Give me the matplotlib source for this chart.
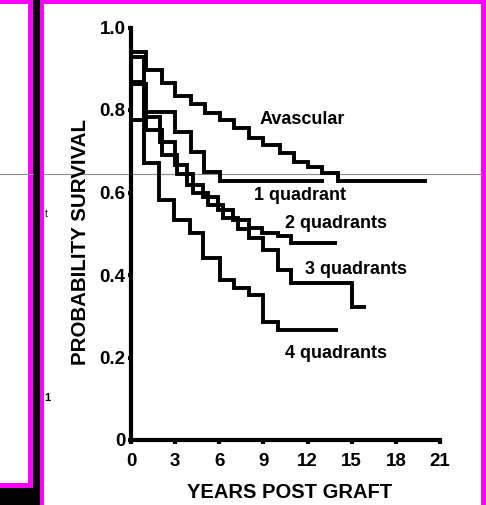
import matplotlib
matplotlib.use("Agg")
import matplotlib.pyplot as plt
from matplotlib.patches import Rectangle
from matplotlib.lines import Line2D

# Kaplan-Meier style survival steps
AVASC_YEARS = [0, 1.0, 2.1, 3.0, 4.05, 5.0, 6.05, 7.0, 8.0, 9.0, 10.1, 11.1, 12.0, 13.0, 14.1, 20.1]
AVASC_SURV = [0.941, 0.897, 0.866, 0.834, 0.814, 0.792, 0.776, 0.756, 0.733, 0.715,
              0.695, 0.673, 0.663, 0.648, 0.627, 0.627]

Q1_YEARS = [0, 0.9, 3.0, 4.05, 4.95, 6.05, 13.1]
Q1_SURV = [0.928, 0.796, 0.747, 0.699, 0.650, 0.627, 0.627]

Q2_YEARS = [0, 0.9, 2.0, 3.0, 3.8, 4.9, 5.9, 6.9, 8.0, 8.9, 10.0, 10.9, 14.0]
Q2_SURV = [0.869, 0.784, 0.723, 0.667, 0.618, 0.590, 0.558, 0.533, 0.515, 0.503, 0.495, 0.477, 0.477]

Q3_YEARS = [0, 1.0, 2.1, 3.1, 4.2, 5.2, 6.25, 7.3, 8.0, 9.0, 10.0, 10.9, 15.0, 16.0]
Q3_SURV = [0.862, 0.752, 0.691, 0.646, 0.599, 0.570, 0.538, 0.512, 0.489, 0.461,
           0.412, 0.380, 0.323, 0.323]

Q4_YEARS = [0, 0.9, 1.9, 2.9, 4.0, 4.9, 6.05, 7.0, 8.0, 9.0, 10.0, 14.1]
Q4_SURV = [0.775, 0.671, 0.583, 0.533, 0.501, 0.442, 0.388, 0.368, 0.352, 0.287, 0.267, 0.267]

CURVE_LABELS = ["Avascular", "1 quadrant", "2 quadrants", "3 quadrants", "4 quadrants"]
XTICKS = [0, 3, 6, 9, 12, 15, 18, 21]
YTICKS = [0, 0.2, 0.4, 0.6, 0.8, 1.0]
YTICK_LABELS = ["0", "0.2", "0.4", "0.6", "0.8", "1.0"]

W, H = 486, 505
MAGENTA = "#ff00ff"
FONT = ["Liberation Sans", "DejaVu Sans"]
plt.rcParams["font.family"] = FONT

fig = plt.figure(figsize=(W / 100, H / 100), dpi=100)
fig.patch.set_facecolor("black")


def _rect(x, y, w, h, color):
    # pixel box measured from the top-left corner
    fig.add_artist(Rectangle((x / W, 1 - (y + h) / H), w / W, h / H,
                             transform=fig.transFigure, facecolor=color,
                             edgecolor="none", zorder=-10))


# slide frame around the chart
_rect(0, 4, 28, 479, "white")
_rect(28, 0, 5, 488, MAGENTA)
_rect(0, 483, 33, 5, MAGENTA)
_rect(0, 0, 33, 4, MAGENTA)
_rect(40, 0, 4, 505, MAGENTA)
_rect(40, 0, 446, 4, MAGENTA)
_rect(44, 4, 437, 501, "white")
_rect(481, 0, 5, 505, MAGENTA)

# thin grey line across the screenshot
gy = 1 - 173.5 / H
for x0, x1 in [(0, 33), (44, 481)]:
    fig.add_artist(Line2D([x0 / W, x1 / W], [gy, gy], transform=fig.transFigure,
                          color="#8a8a8a", linewidth=0.8, zorder=-5))

fig.text(46 / W, 1 - 214 / H, "t", fontsize=7, ha="center", va="center")
fig.text(47 / W, 1 - 398 / H, "1", fontsize=8, fontweight="bold", ha="center", va="center")

ax = fig.add_axes([131 / W, 65 / H, 309 / W, 412.5 / H])
ax.set_facecolor("none")

lw = 2.8
for xs, ys in [(AVASC_YEARS, AVASC_SURV), (Q1_YEARS, Q1_SURV), (Q2_YEARS, Q2_SURV),
               (Q3_YEARS, Q3_SURV), (Q4_YEARS, Q4_SURV)]:
    ax.step(xs, ys, where="post", color="black", linewidth=lw,
            solid_joinstyle="miter", solid_capstyle="butt")

text_kw = dict(fontsize=13, fontweight="bold", ha="left", va="center")
ax.text(8.77, 0.776, CURVE_LABELS[0], **text_kw)
ax.text(8.37, 0.592, CURVE_LABELS[1], **text_kw)
ax.text(10.47, 0.526, CURVE_LABELS[2], **text_kw)
ax.text(11.83, 0.414, CURVE_LABELS[3], **text_kw)
ax.text(10.47, 0.210, CURVE_LABELS[4], **text_kw)

ax.set_xlim(0, 21)
ax.set_ylim(0, 1.0)
for side in ["top", "right"]:
    ax.spines[side].set_visible(False)
for side in ["left", "bottom"]:
    ax.spines[side].set_linewidth(3.0)
    ax.spines[side].set_capstyle("projecting")

ax.set_xticks(XTICKS)
ax.set_xticklabels([str(v) for v in XTICKS])
ax.set_yticks(YTICKS)
ax.set_yticklabels(YTICK_LABELS)
ax.tick_params(axis="x", length=3, width=3, pad=6, labelsize=13.5, direction="out")
ax.tick_params(axis="y", length=2.5, width=3, pad=1.5, labelsize=13.5, direction="out")
for lab in ax.get_xticklabels() + ax.get_yticklabels():
    lab.set_fontweight("bold")

fig.text(290 / W, 1 - 493 / H, "YEARS POST GRAFT", fontsize=14.5, fontweight="bold",
         ha="center", va="center")
fig.text(80.7 / W, 1 - 241.7 / H, "PROBABILITY SURVIVAL", fontsize=14.8, fontweight="bold",
         ha="center", va="center", rotation=90)

fig.savefig("out.png", dpi=100, facecolor=fig.get_facecolor())
